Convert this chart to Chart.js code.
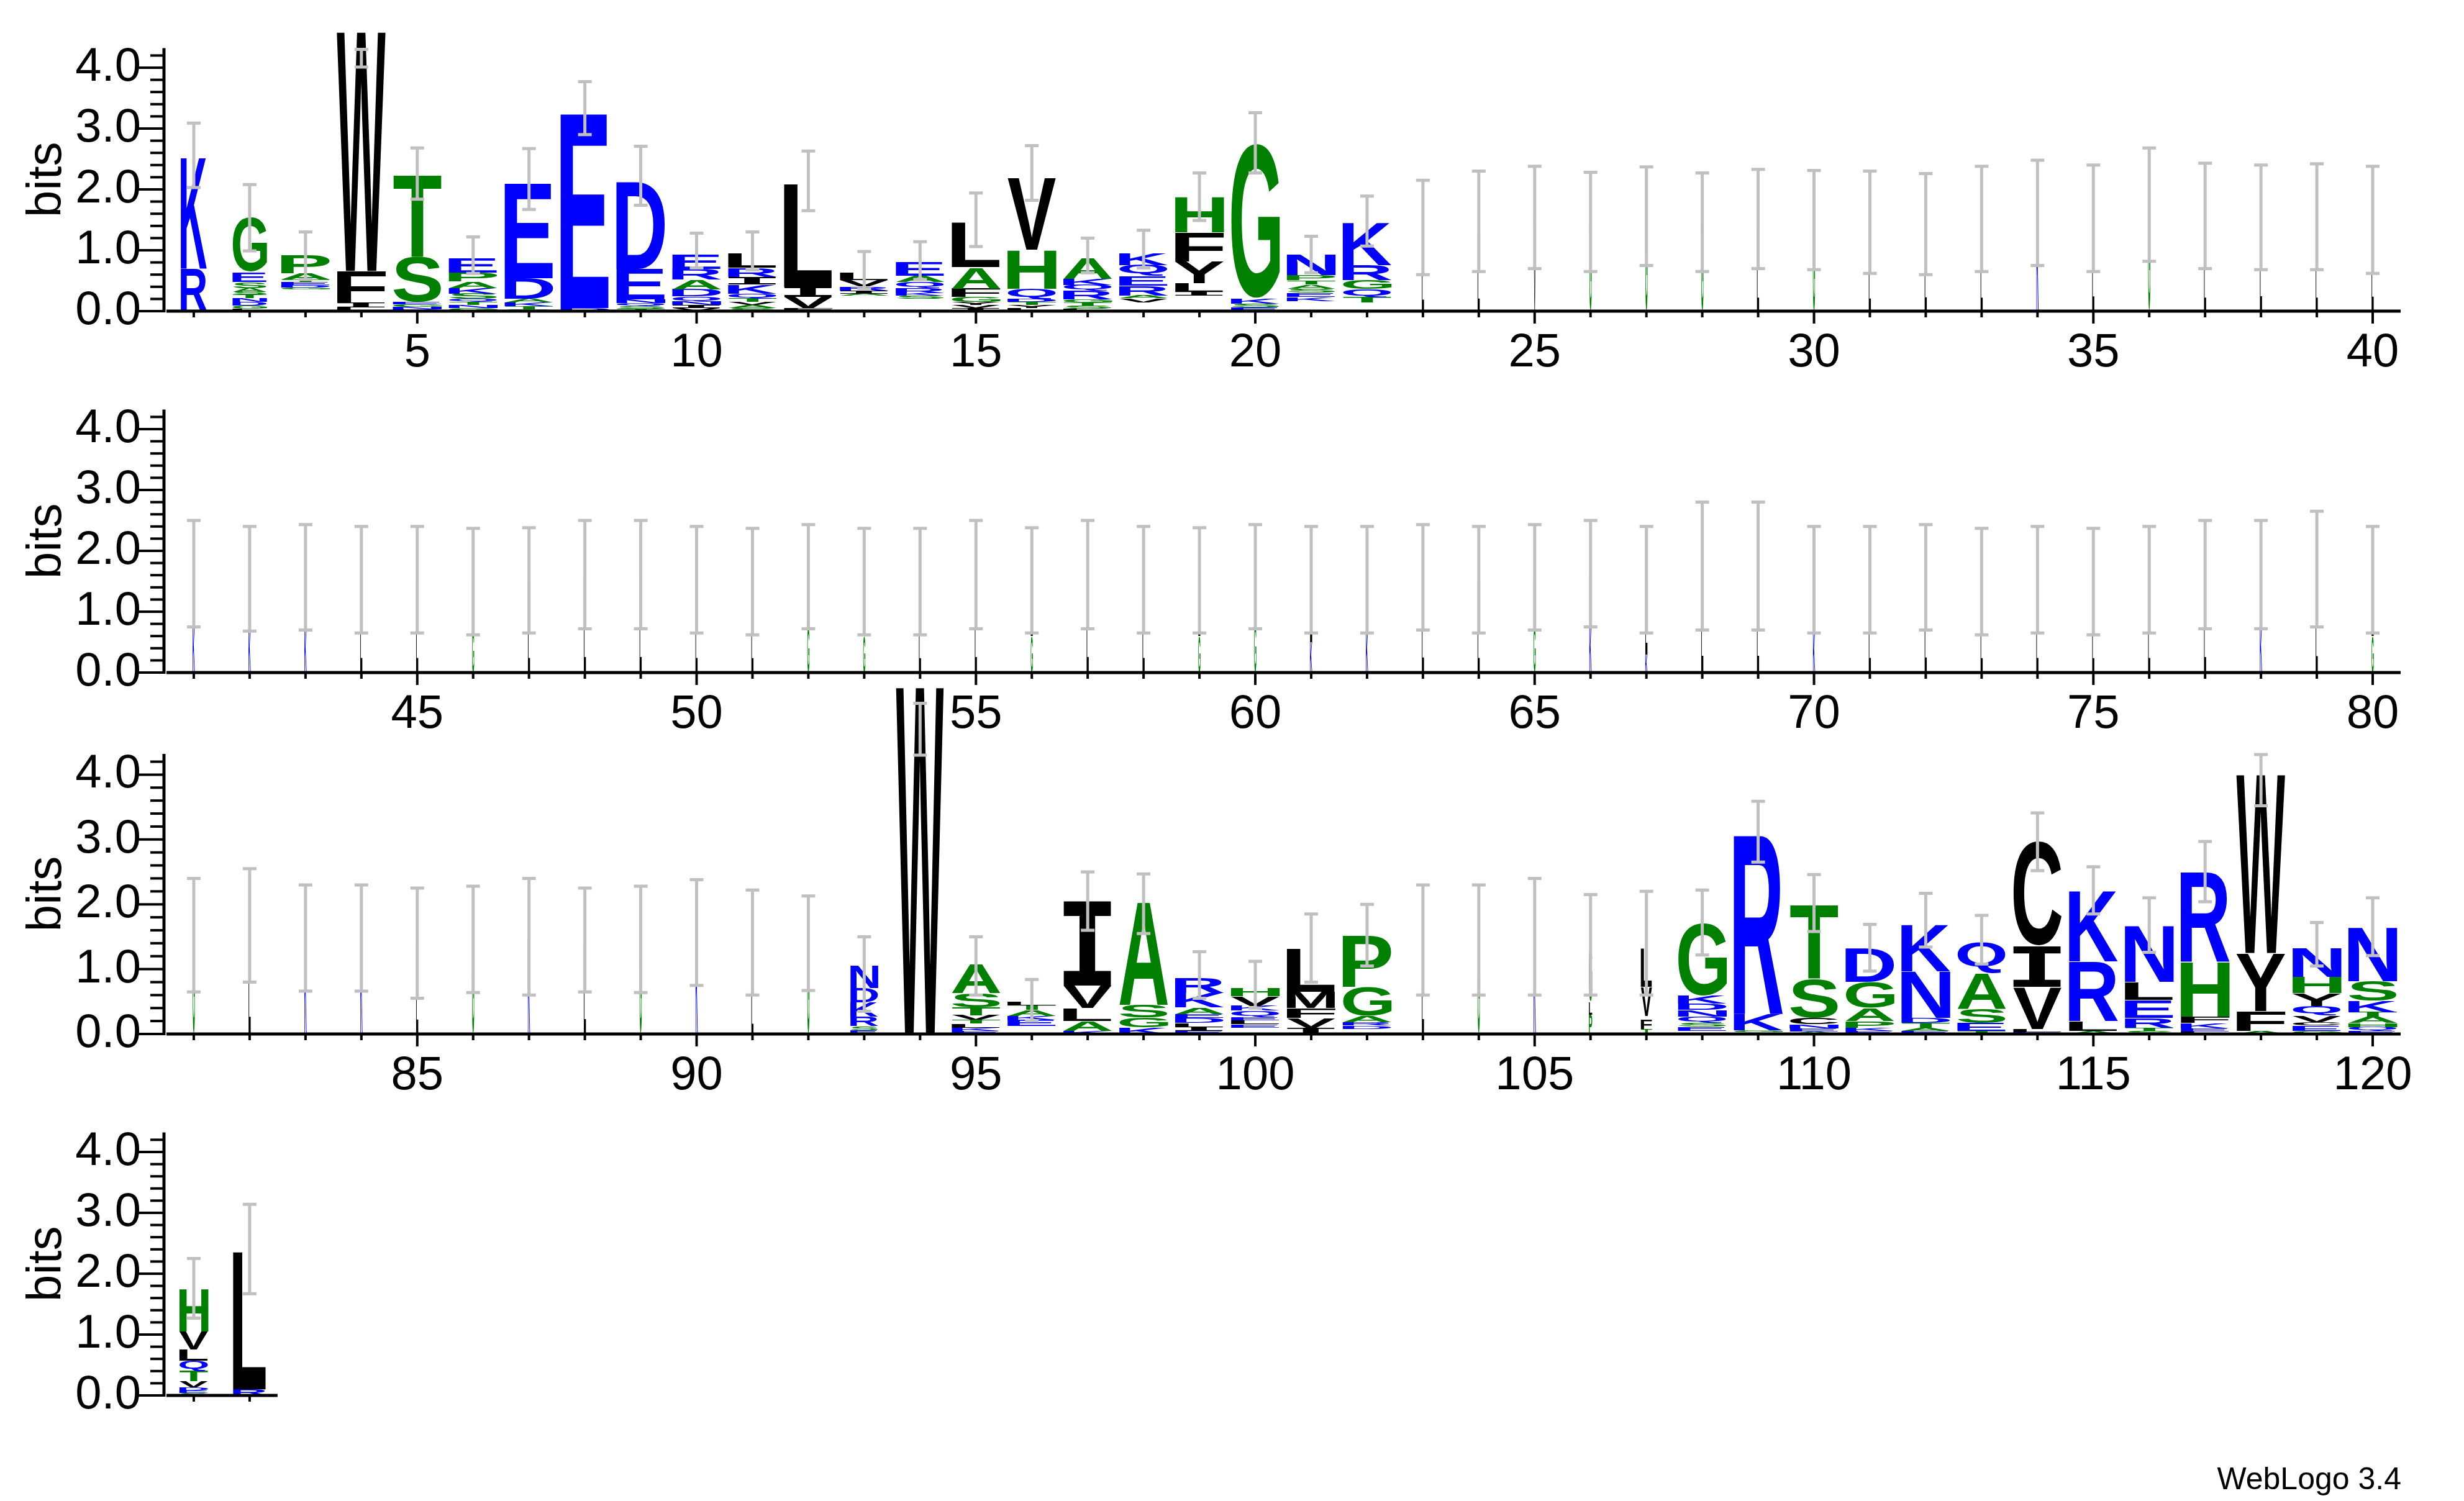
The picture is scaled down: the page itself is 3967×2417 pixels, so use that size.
<!DOCTYPE html>
<html><head><meta charset="utf-8">
<script src="https://cdn.jsdelivr.net/npm/chart.js@4"></script>
<style>
html,body{margin:0;padding:0;background:#fff;width:3967px;height:2417px;overflow:hidden;position:relative;font-family:"Liberation Sans",Arial,sans-serif}
canvas{position:absolute;left:0}
#credit{position:absolute;right:101px;top:2352px;font-size:50px;color:#000}
</style></head><body>
<div id="credit">WebLogo 3.4</div>
<script>
// Residue stacks per position (bottom to top), "letter:bits"; "." = many invisible tiny residues
const stacks = [
"R:0.7 K:1.85","L:0.04 G:0.05 D:0.06 N:0.06 T:0.06 S:0.05 A:0.06 S:0.1 E:0.16 G:0.9",".:0.36 G:0.03 D:0.04 E:0.05 T:0.04 A:0.1 P:0.3","L:0.06 I:0.08 F:0.52 W:4.0",
"D:0.03 N:0.04 G:0.04 E:0.04 S:0.75 T:1.36","G:0.05 N:0.05 T:0.05 Q:0.05 S:0.09 K:0.09 A:0.11 P:0.14 E:0.24","S:0.03 T:0.05 K:0.06 A:0.06 D:0.34 E:1.58","D:0.05 E:3.25",
"T:0.04 S:0.04 Q:0.05 N:0.06 E:0.5 D:1.45","V:0.05 I:0.05 N:0.06 Q:0.08 D:0.12 A:0.16 R:0.17 E:0.24","S:0.05 A:0.05 V:0.05 T:0.06 Q:0.08 K:0.15 I:0.12 R:0.15 L:0.24","F:0.05 V:0.18 I:0.17 L:1.72",
".:0.25 A:0.04 I:0.05 R:0.07 V:0.1 L:0.12",".:0.2 S:0.05 K:0.05 R:0.08 Q:0.1 A:0.1 E:0.22","I:0.05 V:0.05 Y:0.05 G:0.08 F:0.14 A:0.35 L:0.75","L:0.05 Y:0.05 T:0.05 D:0.05 Q:0.17 H:0.64 V:1.2",
"L:0.04 S:0.05 T:0.05 G:0.05 R:0.14 Q:0.1 K:0.1 A:0.35",".:0.14 V:0.07 A:0.05 R:0.16 E:0.16 Q:0.18 K:0.2",".:0.26 I:0.06 L:0.14 Y:0.36 F:0.48 H:0.58","E:0.06 S:0.06 K:0.08 G:2.56",
".:0.16 K:0.07 E:0.07 S:0.07 A:0.07 T:0.07 P:0.08 N:0.35",".:0.14 T:0.09 Q:0.13 G:0.15 R:0.25 K:0.7","L:1.2 K:0.18","L:1.3 K:0.17",
"V:1.4 L:0.14","G:1.3 K:0.16","G:1.56","G:1.3 K:0.16","L:1.4 K:0.12","G:1.4 K:0.1","L:1.3 D:0.16","L:1.43","L:1.4 E:0.12","K:1.62","L:1.53","G:1.75","L:1.4 K:0.17","L:1.54","L:1.4 K:0.15","L:1.5",
"K:0.8 L:0.82","K:0.75 L:0.79","K:0.75 L:0.81","L:1.52","L:1.52","G:0.7 L:0.8","L:1.52","L:1.61","L:1.61","L:1.52",
"L:1.5","G:0.75 L:0.82","G:0.6 L:0.9","L:1.5","L:1.61","G:0.6 L:0.92","L:1.61","L:1.52","G:0.6 L:0.92","G:0.8 L:0.77",
"K:0.5 L:1.02","K:0.7 L:0.82","L:1.56","L:1.52","G:0.75 L:0.81","K:0.8 L:0.82","K:0.3 L:1.22","L:1.75","L:1.75","K:0.7 L:0.82",
"L:1.52","L:1.56","L:1.5","L:1.52","L:1.5","L:1.52","L:1.61","K:0.8 L:0.81","L:1.7","G:0.6 L:0.92",
"G:1.52","L:1.67","K:1.48","K:1.48","L:1.4","G:1.46","K:1.5","L:1.45","G:1.46","K:1.56","L:1.0 K:0.45","G:1.4",
"E:0.06 S:0.06 R:0.15 K:0.22 D:0.22 N:0.35","W:5.45","E:0.05 K:0.05 L:0.06 T:0.06 V:0.07 T:0.12 S:0.22 A:0.45",".:0.12 E:0.1 K:0.06 A:0.09 T:0.07 L:0.06","K:0.05 A:0.15 L:0.2 V:0.35 I:1.3","K:0.1 G:0.15 S:0.2 A:1.6",
"E:0.05 I:0.06 L:0.06 D:0.08 E:0.06 A:0.1 K:0.22 R:0.24",".:0.1 E:0.05 L:0.06 E:0.05 Q:0.1 K:0.07 V:0.15 H:0.12","I:0.1 V:0.15 F:0.15 M:0.25 L:0.67",".:0.08 D:0.05 R:0.05 A:0.1 G:0.45 P:0.8",
"L:1.45","G:1.45","K:1.5","P:0.3 L:0.2 G:0.88","T:0.08 F:0.15 .:0.05 V:0.45 L:0.6",
".:0.05 E:0.06 S:0.06 Q:0.1 N:0.1 D:0.1 K:0.12 G:1.12",".:0.03 G:0.03 K:0.25 R:2.8","A:0.04 E:0.05 N:0.06 C:0.1 S:0.6 T:1.15","E:0.05 K:0.05 P:0.1 A:0.2 G:0.4 D:0.53",
"E:0.05 A:0.05 T:0.07 D:0.08 N:0.72 K:0.72","T:0.05 E:0.12 S:0.22 A:0.55 Q:0.48","E:0.03 L:0.05 V:0.65 I:0.62 C:1.62","A:0.05 L:0.15 R:0.92 K:1.1",
"S:0.05 T:0.05 R:0.15 E:0.28 L:0.27 N:0.87","L:0.04 E:0.05 K:0.08 F:0.1 H:0.85 R:1.4","A:0.05 F:0.3 Y:0.9 W:2.8","G:0.05 E:0.08 C:0.05 V:0.1 Q:0.15 Y:0.2 H:0.25 N:0.45",
"E:0.05 Q:0.06 H:0.06 A:0.1 T:0.07 K:0.17 S:0.3 N:0.84",
"S:0.04 E:0.04 D:0.05 V:0.1 T:0.17 Q:0.17 L:0.18 V:0.3 H:0.7","R:0.1 L:2.3"
];
// Column width (fraction of sequences without gaps)
const widths = [
0.47,0.62,0.88,0.88,0.88,0.88,0.88,0.88,0.88,0.88,0.88,0.88,0.88,0.88,0.88,0.88,0.88,0.88,0.88,0.88,
0.88,0.88,0.04,0.04,0.04,0.04,0.04,0.04,0.04,0.04,0.04,0.04,0.04,0.04,0.04,0.04,0.04,0.04,0.04,0.04,
0.04,0.04,0.04,0.04,0.04,0.04,0.04,0.04,0.04,0.04,0.04,0.04,0.04,0.04,0.04,0.04,0.04,0.04,0.04,0.04,
0.04,0.04,0.04,0.04,0.04,0.04,0.04,0.04,0.04,0.04,0.04,0.04,0.04,0.04,0.04,0.04,0.04,0.04,0.04,0.04,
0.04,0.04,0.04,0.04,0.04,0.04,0.04,0.04,0.04,0.04,0.04,0.04,0.5,0.86,0.88,0.88,0.88,0.88,0.88,0.88,
0.88,0.88,0.04,0.04,0.04,0.06,0.2,0.88,0.88,0.88,0.88,0.88,0.88,0.88,0.88,0.88,0.88,0.88,0.88,0.88,
0.52,0.6
];
const errLow = [
2.03,0.99,0.52,4.01,1.84,0.62,1.67,2.9,1.74,0.71,0.68,1.65,0.37,0.52,1.06,1.82,0.63,0.71,1.49,2.27,
0.63,1.07,0.6,0.65,0.7,0.65,0.75,0.65,0.7,0.68,0.62,0.6,0.65,0.75,0.65,0.82,0.7,0.68,0.68,0.62,
0.75,0.68,0.7,0.65,0.65,0.62,0.65,0.72,0.72,0.65,0.62,0.72,0.62,0.62,0.72,0.65,0.72,0.65,0.65,0.72,
0.65,0.65,0.7,0.65,0.7,0.75,0.65,0.7,0.7,0.65,0.65,0.7,0.62,0.65,0.62,0.65,0.72,0.72,0.75,0.65,
0.65,0.8,0.66,0.66,0.55,0.64,0.6,0.65,0.64,0.75,0.6,0.67,0.35,4.3,0.6,0.2,1.6,1.55,0.55,0.4,
0.8,1.05,0.6,0.6,0.6,0.6,0.6,1.22,2.65,1.58,0.97,1.34,1.08,2.52,1.85,1.26,2.04,3.52,1.05,1.21,
1.27,1.67
];
const errHigh = [
3.09,2.08,1.3,4.3,2.68,1.22,2.67,3.77,2.71,1.28,1.3,2.63,0.98,1.14,1.94,2.72,1.2,1.33,2.27,3.26,
1.23,1.89,2.15,2.3,2.38,2.28,2.37,2.27,2.33,2.31,2.3,2.26,2.38,2.48,2.4,2.68,2.43,2.4,2.42,2.38,
2.5,2.4,2.43,2.4,2.4,2.37,2.38,2.5,2.5,2.4,2.37,2.43,2.37,2.37,2.5,2.38,2.5,2.4,2.38,2.43,
2.4,2.4,2.43,2.4,2.43,2.5,2.4,2.8,2.8,2.4,2.4,2.43,2.37,2.4,2.37,2.4,2.5,2.5,2.65,2.4,
2.4,2.55,2.3,2.3,2.25,2.28,2.4,2.25,2.28,2.38,2.22,2.13,1.5,5.1,1.5,0.84,2.5,2.47,1.27,1.12,
1.85,2.0,2.3,2.3,2.4,2.15,2.2,2.22,3.59,2.46,1.69,2.17,1.83,3.41,2.58,2.1,2.97,4.31,1.72,2.1,
2.25,3.14
];
const yTickLabels = ["0.0","1.0","2.0","3.0","4.0"];
const rowRanges = [[1,40],[41,80],[81,120],[121,122]];

const blue = new Set(["K","R","D","E","N","Q"]);
const green = new Set(["G","S","T","H","A","P"]);
function colorOf(c){ return blue.has(c) ? "#0000ff" : green.has(c) ? "#008000" : "#000000"; }
function parse(s){ return s.split(" ").map(t=>{const [c,v]=t.split(":");return {c, v:parseFloat(v)};}); }

function drawGlyph(ctx, ch, x0, x1, yb, yt, color){
  const h = yb - yt; if (h < 0.4 || ch === ".") return;
  ctx.font = ch === "I" ? 'bold 400px "DejaVu Sans Mono", monospace' : 'bold 400px "Liberation Sans", Arial, sans-serif';
  const m = ctx.measureText(ch);
  const gw = m.actualBoundingBoxLeft + m.actualBoundingBoxRight;
  const gh = m.actualBoundingBoxAscent + m.actualBoundingBoxDescent;
  ctx.save();
  ctx.translate(x0, yt);
  ctx.scale((x1 - x0) / gw, h / gh);
  ctx.fillStyle = color; ctx.textAlign = "left"; ctx.textBaseline = "alphabetic";
  ctx.fillText(ch, m.actualBoundingBoxLeft, m.actualBoundingBoxAscent);
  ctx.restore();
}

const logoPlugin = {
  id: "logo",
  afterDraw(chart){
    const ctx = chart.ctx, xs = chart.scales.x, ys = chart.scales.y;
    const [a,b] = chart.options.plugins.logo.range;
    const step = xs.getPixelForValue(a+1) - xs.getPixelForValue(a);
    for (let p = a; p <= b; p++){
      const i = p - 1, cx = xs.getPixelForValue(p), hw = widths[i] * step / 2;
      let acc = 0;
      for (const r of parse(stacks[i])){
        drawGlyph(ctx, r.c, cx - hw, cx + hw, ys.getPixelForValue(acc), ys.getPixelForValue(acc + r.v), colorOf(r.c));
        acc += r.v;
      }
    }
    ctx.save(); ctx.strokeStyle = "#c0c0c0"; ctx.lineWidth = 5;
    for (let p = a; p <= b; p++){
      const i = p - 1, cx = xs.getPixelForValue(p);
      const y0 = ys.getPixelForValue(errLow[i]), y1 = ys.getPixelForValue(errHigh[i]);
      ctx.beginPath(); ctx.moveTo(cx, y0); ctx.lineTo(cx, y1);
      ctx.moveTo(cx-11, y0); ctx.lineTo(cx+11, y0);
      ctx.moveTo(cx-11, y1); ctx.lineTo(cx+11, y1); ctx.stroke();
    }
    ctx.restore();
    const ca = chart.chartArea;
    ctx.save(); ctx.strokeStyle = "#000"; ctx.lineWidth = 5;
    const ax = ca.left - 3;
    ctx.beginPath(); ctx.moveTo(ax, ca.top); ctx.lineTo(ax, ca.bottom + 2); ctx.stroke();
    ctx.lineWidth = 4;
    for (let k = 0; k <= 21; k++){
      const y = ys.getPixelForValue(k * 0.2);
      ctx.beginPath(); ctx.moveTo(k % 5 === 0 ? ax - 45 : ax - 22, y); ctx.lineTo(ax, y); ctx.stroke();
    }
    ctx.lineWidth = 5;
    ctx.beginPath(); ctx.moveTo(ca.left + 1, ca.bottom); ctx.lineTo(ca.right, ca.bottom); ctx.stroke();
    ctx.lineWidth = 4;
    for (let p = a; p <= b; p++){
      const x = xs.getPixelForValue(p);
      ctx.beginPath(); ctx.moveTo(x, ca.bottom); ctx.lineTo(x, ca.bottom + (p % 5 === 0 ? 20 : 10)); ctx.stroke();
    }
    ctx.restore();
  }
};

const ROW = 582, BASE = 501, TOPPAD = 50, LEFT = 267, STEP = 89.95;
const FONT = '"Liberation Sans", Arial, sans-serif';
rowRanges.forEach(([a,b], r) => {
  const extra = r === 2 ? 400 : 0;
  const cv = document.createElement("canvas");
  const plotW = (b - a + 1) * STEP;
  const W = r === 3 ? Math.ceil(LEFT + plotW + 20) : 3967;
  const H = 650 + extra;
  cv.width = W; cv.height = H;
  cv.style.width = W + "px"; cv.style.height = H + "px";
  cv.style.top = (Math.round(r * ROW) - extra) + "px";
  document.body.appendChild(cv);
  const data = [];
  for (let p = a; p <= b; p++){ data.push({x:p, y: parse(stacks[p-1]).reduce((s,t)=>s+t.v,0)}); }
  const xTicks = [];
  if (r < 3) for (let v = Math.ceil(a/5)*5; v <= b; v += 5) xTicks.push(v);
  new Chart(cv, {
    type: "scatter",
    data: { datasets: [{ data, pointRadius: 0, showLine: false }] },
    plugins: [logoPlugin],
    options: {
      responsive: false, animation: false, devicePixelRatio: 1,
      layout: { padding: { left: 0, top: TOPPAD + extra, right: W - LEFT - plotW, bottom: 0 } },
      plugins: { legend: {display:false}, tooltip: {enabled:false}, logo: { range: [a,b] } },
      scales: {
        x: { type: "linear", min: a - 0.5, max: b + 0.5,
             grid: {display:false}, border: {display:false},
             afterBuildTicks: s => { s.ticks = xTicks.map(v => ({value: v})); },
             afterFit: s => { s.height = H - (BASE + extra); },
             ticks: { autoSkip: false, maxRotation: 0, padding: 14, color: "#000",
                      font: { size: 76, family: FONT },
                      callback: v => String(v) } },
        y: { type: "linear", min: 0, max: 4.32,
             grid: {display:false}, border: {display:false},
             afterBuildTicks: s => { s.ticks = [0,1,2,3,4].map(v => ({value: v})); },
             afterFit: s => { s.width = LEFT; },
             title: { display: true, text: "bits", color: "#000", padding: { top: 30, bottom: 0 },
                      font: { size: 78, family: FONT } },
             ticks: { autoSkip: false, padding: 32, color: "#000",
                      font: { size: 76, family: FONT },
                      callback: v => yTickLabels[Math.round(v)] } }
      }
    }
  });
});
</script>
</body></html>
